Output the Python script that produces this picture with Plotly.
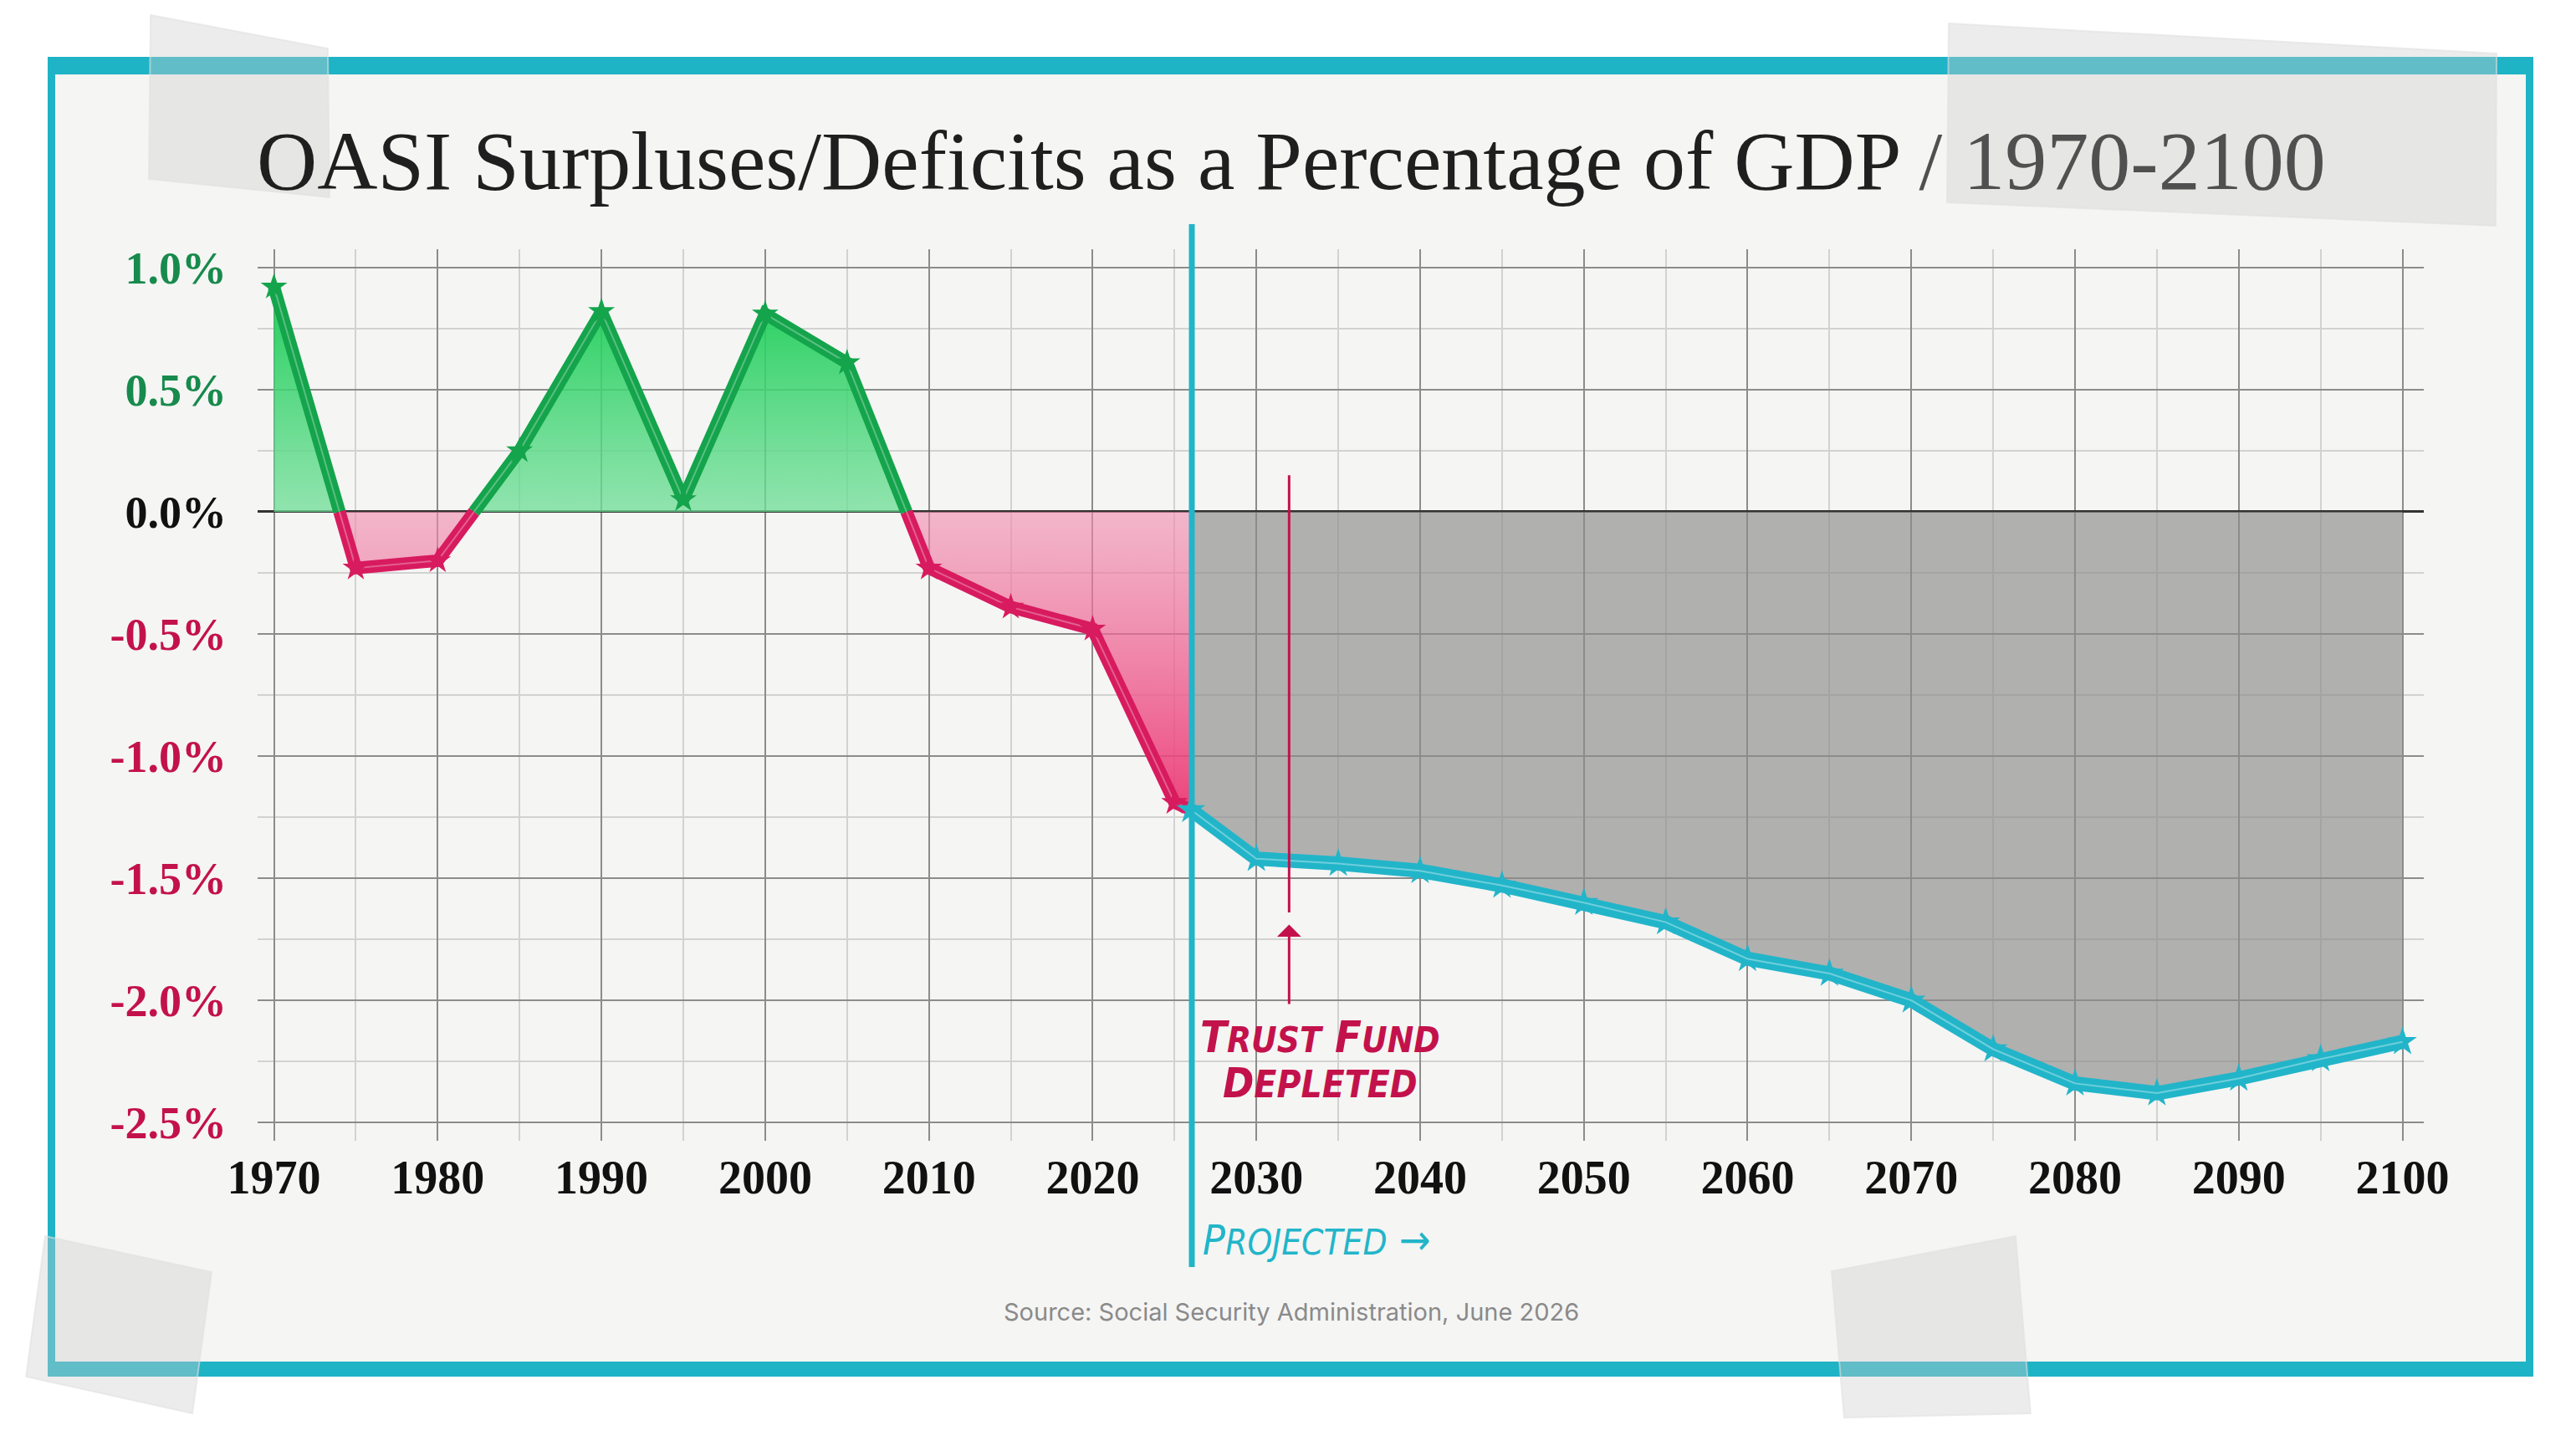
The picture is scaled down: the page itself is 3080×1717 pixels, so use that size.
import plotly.graph_objects as go

# historical OASI balance, % of GDP
hist_years = [1970, 1975, 1980, 1985, 1990, 1995, 2000, 2005, 2010, 2015, 2020, 2025]
hist_values = [0.92, -0.23, -0.20, 0.25, 0.82, 0.05, 0.81, 0.61, -0.23, -0.39, -0.48, -1.19]

# projected (intermediate assumptions)
proj_years = [2026, 2030, 2035, 2040, 2045, 2050, 2055, 2060, 2065, 2070, 2075, 2080, 2085, 2090, 2095, 2100]
proj_values = [-1.22, -1.42, -1.44, -1.47, -1.53, -1.60, -1.68, -1.83, -1.89, -2.00, -2.20, -2.34, -2.38, -2.32, -2.24, -2.17]

y_ticks = [1.0, 0.5, 0.0, -0.5, -1.0, -1.5, -2.0, -2.5]
y_labels = ['1.0%', '0.5%', '0.0%', '-0.5%', '-1.0%', '-1.5%', '-2.0%', '-2.5%']
x_ticks = [1970, 1980, 1990, 2000, 2010, 2020, 2030, 2040, 2050, 2060, 2070, 2080, 2090, 2100]

projection_start = 2026
depletion_year = 2032

GREEN = '#14a44c'
RED = '#d81b5e'
CRIMSON = '#c3124b'
CYAN = '#22b5c9'

# page is 3080x1717, the body adds an 8px margin around the figure
OFF = 8
W, H = 3080 - 2 * OFF, 1717 - 2 * OFF
L, R, T, B = 300, 174, 290, 345


def px(x):
    # screen x pixel -> paper coordinate
    return (x - OFF - L) / (W - L - R)


def py(y):
    # screen y pixel -> paper coordinate
    return (H - B - (y - OFF)) / (H - T - B)


def split_by_sign(xs, ys):
    runs = []
    cx, cy = [xs[0]], [ys[0]]
    pos = ys[0] >= 0
    for i in range(1, len(xs)):
        x0, y0, x1, y1 = xs[i - 1], ys[i - 1], xs[i], ys[i]
        if (y1 >= 0) != pos:
            xc = x0 + (x1 - x0) * y0 / (y0 - y1)
            cx.append(xc)
            cy.append(0)
            runs.append((pos, cx, cy))
            cx, cy = [xc, x1], [0, y1]
            pos = y1 >= 0
        else:
            cx.append(x1)
            cy.append(y1)
    runs.append((pos, cx, cy))
    return runs


fig = go.Figure()

# grey deficit area for the projection
fig.add_trace(go.Scatter(x=proj_years, y=proj_values, mode='none', fill='tozeroy',
                         fillcolor='rgba(140,140,140,0.66)', hoverinfo='skip'))

runs = split_by_sign(hist_years + [proj_years[0]], hist_values + [proj_values[0]])

for pos, xs, ys in runs:
    if pos:
        grad = dict(type='vertical', start=0, stop=0.9,
                    colorscale=[[0, 'rgba(110,222,150,0.75)'], [1, 'rgba(25,205,85,0.95)']])
    else:
        grad = dict(type='vertical', start=0, stop=-1.2,
                    colorscale=[[0, 'rgba(240,140,175,0.6)'], [1, 'rgba(236,55,115,0.92)']])
    fig.add_trace(go.Scatter(x=xs, y=ys, mode='none', fill='tozeroy', fillgradient=grad, hoverinfo='skip'))

for pos, xs, ys in runs:
    col = GREEN if pos else RED
    fig.add_trace(go.Scatter(x=xs, y=ys, mode='lines', line=dict(color=col, width=15), hoverinfo='skip'))
    fig.add_trace(go.Scatter(x=xs, y=ys, mode='lines', line=dict(color='rgba(255,255,255,0.3)', width=2),
                             hoverinfo='skip'))

fig.add_trace(go.Scatter(x=hist_years, y=hist_values, mode='markers',
                         marker=dict(symbol='star', size=24,
                                     color=[GREEN if v >= 0 else RED for v in hist_values]),
                         hoverinfo='skip'))

fig.add_trace(go.Scatter(x=proj_years, y=proj_values, mode='lines+markers',
                         line=dict(color=CYAN, width=17),
                         marker=dict(symbol='star', size=26, color=CYAN)))
fig.add_trace(go.Scatter(x=proj_years, y=proj_values, mode='lines',
                         line=dict(color='rgba(255,255,255,0.35)', width=2), hoverinfo='skip'))

# card, border and tape
shapes = [
    dict(type='rect', xref='paper', yref='paper', x0=px(57), x1=px(3029), y0=py(68), y1=py(1646),
         fillcolor='#1fb3c6', line_width=0, layer='below'),
    dict(type='rect', xref='paper', yref='paper', x0=px(66), x1=px(3020), y0=py(89), y1=py(1628),
         fillcolor='#f5f5f4', line_width=0, layer='below'),
]
tapes = [
    [(180, 18), (392, 58), (394, 236), (178, 214)],
    [(2330, 28), (2985, 64), (2984, 270), (2328, 242)],
    [(54, 1478), (253, 1521), (230, 1690), (31, 1646)],
    [(2190, 1520), (2410, 1478), (2428, 1690), (2205, 1695)],
]
for pts in tapes:
    path = 'M ' + ' L '.join(f'{px(a):.4f},{py(b):.4f}' for a, b in pts) + ' Z'
    shapes.append(dict(type='path', xref='paper', yref='paper', path=path,
                       fillcolor='rgba(205,205,205,0.38)', line=dict(color='rgba(225,225,225,0.6)', width=2),
                       layer='above'))

# projection divider and depletion marker
shapes.append(dict(type='line', xref='paper', yref='paper',
                   x0=px(1425), x1=px(1425), y0=py(268), y1=py(1515),
                   line=dict(color=CYAN, width=7)))
shapes.append(dict(type='line', xref='x', yref='y', x0=depletion_year, x1=depletion_year, y0=0.15, y1=-1.64,
                   line=dict(color=CRIMSON, width=3)))

fig.update_layout(shapes=shapes)

hand = 'Liberation Sans Narrow, DejaVu Sans Condensed, Roboto, sans-serif'

fig.add_annotation(x=depletion_year, y=-1.69, ax=depletion_year, ay=-2.02, xref='x', yref='y',
                   axref='x', ayref='y', text='', showarrow=True, arrowhead=1, arrowsize=1.6,
                   arrowwidth=3, arrowcolor=CRIMSON)
fig.add_annotation(x=2033.9, y=-2.15, xref='x', yref='y', showarrow=False, yanchor='middle',
                   text="<i><b>T<span style='font-size:42px'>RUST</span> F<span style='font-size:42px'>UND</span></b></i>",
                   font=dict(family=hand, size=52, color=CRIMSON))
fig.add_annotation(x=2033.9, y=-2.34, xref='x', yref='y', showarrow=False, yanchor='middle',
                   text="<i><b>D<span style='font-size:44px'>EPLETED</span></b></i>",
                   font=dict(family=hand, size=50, color=CRIMSON))
fig.add_annotation(x=px(1436), y=py(1483), xref='paper', yref='paper', xanchor='left', yanchor='middle',
                   showarrow=False,
                   text="<i>P<span style='font-size:42px'>ROJECTED</span> \u2192</i>",
                   font=dict(family=hand, size=50, color=CYAN))

fig.add_annotation(x=px(1544), y=py(192), xref='paper', yref='paper', showarrow=False, yanchor='middle',
                   text="OASI Surpluses/Deficits as a Percentage of GDP <span style='color:#505050'>/ 1970-2100</span>",
                   font=dict(family='Liberation Serif, serif', size=100, color='#1f1f1f'))
fig.add_annotation(x=px(1544), y=py(1568), xref='paper', yref='paper', showarrow=False, yanchor='middle',
                   text='Source: Social Security Administration, June 2026',
                   font=dict(family='Inter, Open Sans, sans-serif', size=29, color='#8a8a8a'))

y_colors = ['#178a4c' if v > 0 else ('#111111' if v == 0 else CRIMSON) for v in y_ticks]
y_text = [f"<span style='color:{c}'>{t}</span>" for t, c in zip(y_labels, y_colors)]

fig.update_xaxes(range=[1969.0, 2101.3], tickvals=x_ticks, ticks='', showline=False, zeroline=False,
                 showgrid=True, gridcolor='#8c8c8c', gridwidth=2,
                 minor=dict(dtick=5, tick0=1965, showgrid=True, gridcolor='#d2d2d2', gridwidth=1.5),
                 tickfont=dict(family='Liberation Serif, serif', size=56, color='#111111', weight='bold'),
                 ticklabelstandoff=6)
fig.update_yaxes(range=[-2.575, 1.075], tickvals=y_ticks, ticktext=y_text, ticks='', showline=False,
                 showgrid=True, gridcolor='#8c8c8c', gridwidth=2,
                 zeroline=True, zerolinecolor='#333333', zerolinewidth=3,
                 minor=dict(dtick=0.25, tick0=0, showgrid=True, gridcolor='#d2d2d2', gridwidth=1.5),
                 tickfont=dict(family='Liberation Serif, serif', size=54, weight='bold'),
                 ticklabelstandoff=36)

fig.update_layout(width=W, height=H, margin=dict(l=L, r=R, t=T, b=B, autoexpand=False),
                  paper_bgcolor='white', plot_bgcolor='rgba(0,0,0,0)', showlegend=False)

fig.write_html("out.html")
